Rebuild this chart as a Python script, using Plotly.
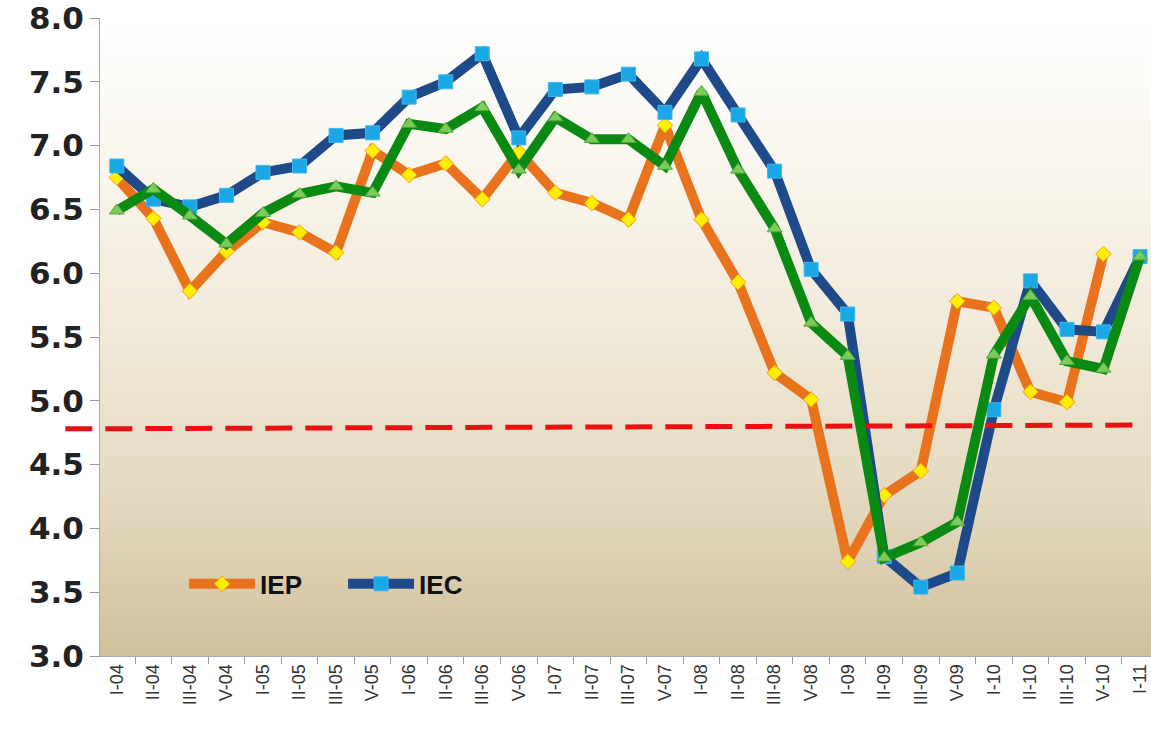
import plotly.graph_objects as go

categories = ["I-04", "II-04", "III-04", "V-04",
              "I-05", "II-05", "III-05", "V-05",
              "I-06", "II-06", "III-06", "V-06",
              "I-07", "II-07", "III-07", "V-07",
              "I-08", "II-08", "III-08", "V-08",
              "I-09", "II-09", "III-09", "V-09",
              "I-10", "II-10", "III-10", "V-10",
              "I-11"]

iep = [6.75, 6.43, 5.86, 6.17, 6.40, 6.32, 6.16, 6.96, 6.77, 6.86, 6.58, 6.95,
       6.63, 6.55, 6.42, 7.16, 6.42, 5.93, 5.22, 5.01, 3.74, 4.26, 4.45, 5.78,
       5.73, 5.07, 4.99, 6.15, None]
iec = [6.84, 6.58, 6.52, 6.61, 6.79, 6.84, 7.08, 7.10, 7.38, 7.50, 7.72, 7.06,
       7.44, 7.46, 7.56, 7.26, 7.68, 7.24, 6.80, 6.03, 5.68, 3.78, 3.54, 3.65,
       4.93, 5.94, 5.56, 5.54, 6.13]
third = [6.49, 6.66, 6.45, 6.23, 6.47, 6.62, 6.68, 6.63, 7.17, 7.13, 7.30, 6.81,
         7.22, 7.05, 7.05, 6.84, 7.42, 6.81, 6.35, 5.61, 5.35, 3.77, 3.89, 4.05,
         5.36, 5.82, 5.31, 5.25, 6.13]
threshold_left = 4.78
threshold_right = 4.81

y_ticks = [3.0, 3.5, 4.0, 4.5, 5.0, 5.5, 6.0, 6.5, 7.0, 7.5, 8.0]

fig = go.Figure()

# background gradient (white top -> tan bottom)
stops = [(0.0, (208, 193, 156)), (0.25, (228, 217, 192)), (0.5, (241, 233, 216)),
         (0.75, (249, 245, 236)), (1.0, (255, 255, 255))]
def col(t):
    for (a, ca), (b, cb) in zip(stops[:-1], stops[1:]):
        if a <= t <= b:
            f = (t - a) / (b - a)
            return "rgb(%d,%d,%d)" % tuple(round(ca[i] + f * (cb[i] - ca[i])) for i in range(3))
    return "rgb(255,255,255)"
n = 80
for i in range(n):
    y0 = i / n
    y1 = (i + 1) / n
    fig.add_shape(type="rect", xref="paper", yref="paper", x0=0, x1=1, y0=y0, y1=y1 + 0.002,
                  fillcolor=col((y0 + y1) / 2), line_width=0, layer="below")

fig.add_trace(go.Scatter(
    x=categories, y=iep, name="IEP", mode="lines+markers",
    line=dict(color="#e8731c", width=10),
    marker=dict(symbol="diamond", size=12, color="#ffee00", line=dict(color="#f0a020", width=1)),
))
fig.add_trace(go.Scatter(
    x=categories, y=iec, name="IEC", mode="lines+markers",
    line=dict(color="#1f4a8a", width=10),
    marker=dict(symbol="square", size=14, color="#1aa7e6", line=dict(color="#3fb8f0", width=1)),
))
fig.add_trace(go.Scatter(
    x=categories, y=third, name="", mode="lines+markers", showlegend=False,
    line=dict(color="#0a8a12", width=10),
    marker=dict(symbol="triangle-up", size=13, color="#7ccc5a", line=dict(color="#5aa840", width=1)),
))

fig.add_shape(type="line", xref="paper", yref="y", x0=-0.033, x1=0.992,
              y0=threshold_left, y1=threshold_right,
              line=dict(color="#e81010", width=5, dash="27px,13px"))

fig.update_layout(
    width=1151, height=730,
    margin=dict(l=100, r=0, t=18, b=74),
    paper_bgcolor="white",
    plot_bgcolor="rgba(0,0,0,0)",
    showlegend=True,
    legend=dict(orientation="h", x=0.08, y=0.113, xanchor="left", yanchor="middle",
                bgcolor="rgba(0,0,0,0)",
                font=dict(family="Liberation Sans Narrow, Liberation Sans", size=26, color="#111", weight="bold"),
                itemwidth=66, entrywidth=78, entrywidthmode="pixels", tracegroupgap=0),
    xaxis=dict(type="category", categoryorder="array", categoryarray=categories,
               range=[-0.46, 28.3], tickson="boundaries", ticks="outside", ticklen=7,
               tickcolor="#999", showline=True, linecolor="#aaa", linewidth=1,
               showgrid=False, tickangle=-90, automargin=False, ticklabeloverflow="allow",
               tickfont=dict(family="Liberation Sans", size=18, color="#333")),
    yaxis=dict(range=[3.0, 8.0], tickvals=y_ticks, ticktext=["%.1f" % v for v in y_ticks],
               ticks="outside", ticklen=9, tickcolor="#999", showline=True, linecolor="#aaa",
               linewidth=1, showgrid=False, zeroline=False, automargin=False,
               ticklabeloverflow="allow",
               tickfont=dict(family="DejaVu Sans", size=31, color="#222", weight="bold")),
)

fig.write_html("out.html", config={"displayModeBar": False},
               post_script="document.body.style.margin='0px';document.body.style.overflow='hidden';")
